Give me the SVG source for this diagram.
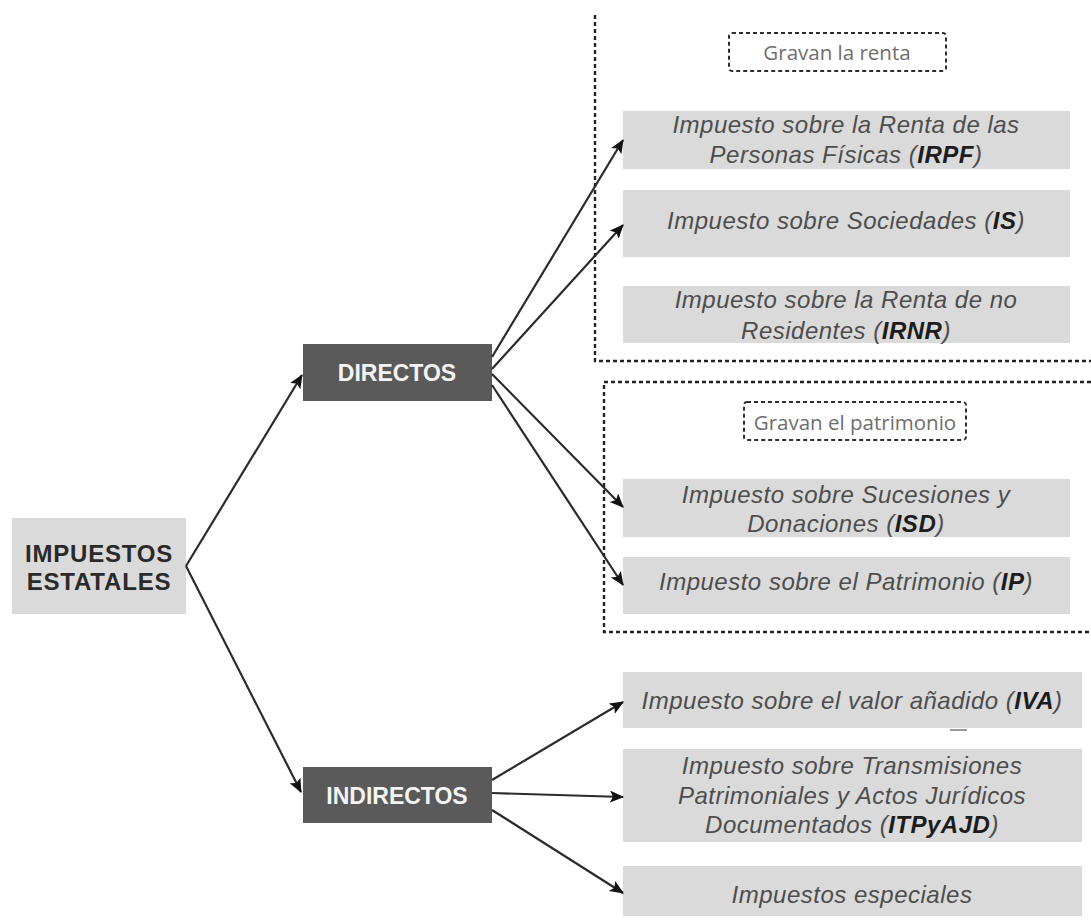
<svg xmlns="http://www.w3.org/2000/svg" width="1091" height="920" viewBox="0 0 1091 920">
<defs>
<marker id="ah" markerUnits="userSpaceOnUse" markerWidth="16" markerHeight="14" refX="13" refY="6" orient="auto">
<path d="M0,0 L14,6 L0,12 L3,6 z" fill="#111"/>
</marker>
<style>
.leaf{fill:#dadada}
.dark{fill:#5a5a5a}
.it{font-family:"Liberation Sans",Arial,sans-serif;font-style:italic;font-size:24px;letter-spacing:0.5px;fill:#4d4d4d;text-anchor:middle}
.it .b{font-weight:bold;fill:#1c1c1c}
.hd{font-family:"Liberation Sans",Arial,sans-serif;font-weight:bold;font-size:23px;fill:#f4f4f4;text-anchor:middle}
.root{font-family:"Liberation Sans",Arial,sans-serif;font-weight:bold;font-size:24px;letter-spacing:0.8px;fill:#2a2a2a;text-anchor:middle}
.grp{fill:none;stroke:#222;stroke-width:2.4;stroke-dasharray:4 3}
.tag{fill:none;stroke:#2e2e2e;stroke-width:2;stroke-dasharray:4 3}
.tagt{font-family:"Open Sans","Liberation Sans",sans-serif;font-size:20.5px;fill:#6e6e6e;text-anchor:middle}
.con{fill:none;stroke:#2b2b2b;stroke-width:2.2;marker-end:url(#ah)}
</style>
</defs>
<rect width="1091" height="920" fill="#fff"/>

<g id="group-renta">
<path class="grp" d="M595,15 V361 H1091"/>
<rect class="tag" x="729" y="33" width="217" height="38" rx="3"/>
<text class="tagt" x="837" y="60">Gravan la renta</text>
</g>
<g id="group-patrimonio">
<path class="grp" d="M1091,382 H604 V632 H1091"/>
<rect class="tag" x="744" y="402" width="222" height="38" rx="3"/>
<text class="tagt" x="855" y="430">Gravan el patrimonio</text>
</g>

<g id="root">
<rect class="leaf" x="12" y="518" width="174" height="96"/>
<text class="root" x="99" y="562">IMPUESTOS</text>
<text class="root" x="99" y="590">ESTATALES</text>
</g>
<g id="directos">
<rect class="dark" x="303" y="344" width="189" height="57"/>
<text class="hd" x="397" y="381">DIRECTOS</text>
</g>
<g id="indirectos">
<rect class="dark" x="303" y="767" width="189" height="56"/>
<text class="hd" x="397" y="804">INDIRECTOS</text>
</g>

<g id="irpf">
<rect class="leaf" x="623" y="111" width="447" height="58"/>
<text class="it" x="846" y="133">Impuesto sobre la Renta de las</text>
<text class="it" x="846" y="163">Personas Físicas (<tspan class="b">IRPF</tspan>)</text>
</g>
<g id="is">
<rect class="leaf" x="623" y="190" width="447" height="67"/>
<text class="it" x="846" y="229">Impuesto sobre Sociedades (<tspan class="b">IS</tspan>)</text>
</g>
<g id="irnr">
<rect class="leaf" x="623" y="286" width="447" height="57"/>
<text class="it" x="846" y="308">Impuesto sobre la Renta de no</text>
<text class="it" x="846" y="339">Residentes (<tspan class="b">IRNR</tspan>)</text>
</g>
<g id="isd">
<rect class="leaf" x="623" y="479" width="447" height="58"/>
<text class="it" x="846" y="503">Impuesto sobre Sucesiones y</text>
<text class="it" x="846" y="532">Donaciones (<tspan class="b">ISD</tspan>)</text>
</g>
<g id="ip">
<rect class="leaf" x="623" y="557" width="447" height="57"/>
<text class="it" x="846" y="590">Impuesto sobre el Patrimonio (<tspan class="b">IP</tspan>)</text>
</g>
<g id="iva">
<rect class="leaf" x="623" y="672" width="459" height="56"/>
<text class="it" x="852" y="709">Impuesto sobre el valor añadido (<tspan class="b">IVA</tspan>)</text>
<line x1="950" y1="730" x2="967" y2="730" stroke="#999" stroke-width="2"/>
</g>
<g id="itp">
<rect class="leaf" x="623" y="749" width="459" height="93"/>
<text class="it" x="852" y="774">Impuesto sobre Transmisiones</text>
<text class="it" x="852" y="804">Patrimoniales y Actos Jurídicos</text>
<text class="it" x="852" y="833">Documentados (<tspan class="b">ITPyAJD</tspan>)</text>
</g>
<g id="especiales">
<rect class="leaf" x="623" y="866" width="459" height="50"/>
<text class="it" x="852" y="903">Impuestos especiales</text>
</g>

<g id="connectors">
<line class="con" x1="186" y1="566" x2="302" y2="375"/>
<line class="con" x1="186" y1="566" x2="301" y2="792"/>
<line class="con" x1="492" y1="357" x2="623" y2="140"/>
<line class="con" x1="492" y1="369" x2="623" y2="225"/>
<line class="con" x1="492" y1="374" x2="623" y2="507"/>
<line class="con" x1="492" y1="385" x2="623" y2="585"/>
<line class="con" x1="492" y1="780" x2="623" y2="702"/>
<line class="con" x1="492" y1="793" x2="623" y2="797"/>
<line class="con" x1="492" y1="810" x2="623" y2="893"/>
</g>
</svg>
